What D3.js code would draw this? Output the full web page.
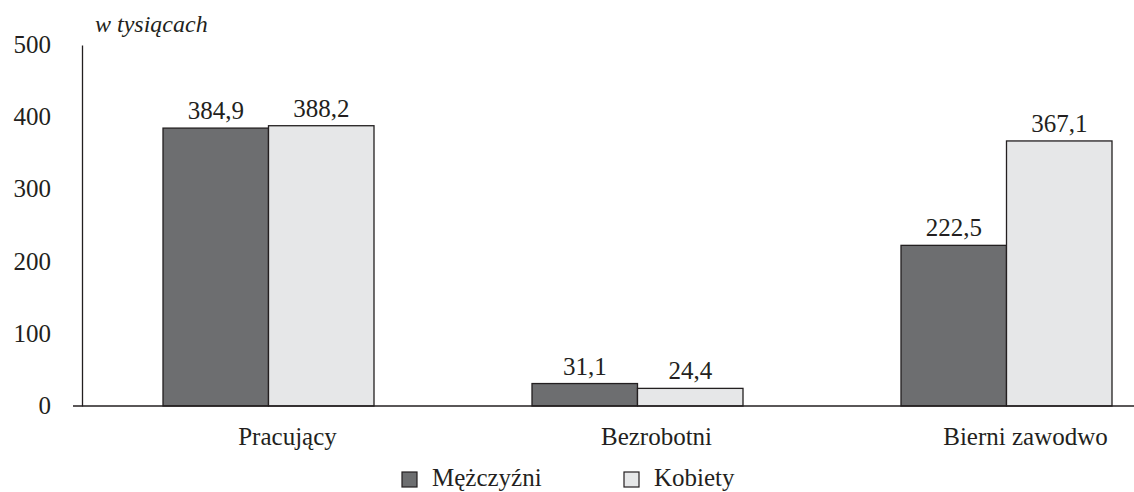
<!DOCTYPE html>
<html><head><meta charset="utf-8">
<script src="https://cdn.jsdelivr.net/npm/d3@7"></script>
</head><body style="margin:0;background:#fff"><svg id="c" width="1134" height="492" style="display:block"></svg>
<script>
const categories = ["Pracujący", "Bezrobotni", "Bierni zawodwo"];
const seriesNames = ["Mężczyźni", "Kobiety"];
const men = [384.9, 31.1, 222.5];
const women = [388.2, 24.4, 367.1];
const yTicks = [0, 100, 200, 300, 400, 500];
const unitLabel = "w tysiącach";

const colors = ["#6d6e70", "#e6e7e8"];
const stroke = "#231f20";
const FONT = "'Times New Roman'";
const FS = "25px";
const svg = d3.select("#c");
const fmt = v => d3.format(".1f")(v).replace(".", ",");

const y = d3.scaleLinear().domain([0, 500]).range([406, 45]);
const x0 = d3.scaleBand().domain(categories).range([84, 1191]).paddingInner(0).paddingOuter(0);
const x1 = d3.scaleBand().domain(seriesNames).range([0, 211]);
const groupOffset = (x0.bandwidth() - 211) / 2;

// y axis
const yAxis = d3.axisLeft(y).tickValues(yTicks).tickSize(0).tickPadding(31).tickFormat(d3.format("d"));
const ga = svg.append("g").attr("transform", "translate(82,0)").call(yAxis);
ga.attr("font-family", null).attr("font-size", null);
ga.select(".domain").attr("stroke", stroke).attr("stroke-width", 1.3);
ga.selectAll("text").style("font-family", FONT).style("font-size", FS).attr("dy", "0.3em").style("fill", stroke);

svg.append("text").attr("x", 95).attr("y", 32).style("font-family", FONT).style("font-size", "24px").style("font-style", "italic").style("fill", stroke).text(unitLabel);

// bars
const data = categories.map((c, i) => ({c, vals: [men[i], women[i]]}));
const g = svg.selectAll("g.grp").data(data).join("g").attr("class", "grp")
  .attr("transform", d => `translate(${x0(d.c) + groupOffset},0)`);
g.selectAll("rect").data(d => d.vals.map((v, j) => ({v, s: seriesNames[j], j})))
  .join("rect")
  .attr("x", d => x1(d.s)).attr("width", x1.bandwidth())
  .attr("y", d => y(d.v)).attr("height", d => y(0) - y(d.v))
  .attr("fill", d => colors[d.j]).attr("stroke", stroke).attr("stroke-width", 1.3);
g.selectAll("text.val").data(d => d.vals.map((v, j) => ({v, s: seriesNames[j], j})))
  .join("text").attr("class", "val")
  .attr("x", d => x1(d.s) + x1.bandwidth() / 2).attr("y", d => y(d.v) - 9)
  .attr("text-anchor", "middle").style("font-family", FONT).style("font-size", FS).style("fill", stroke).text(d => fmt(d.v));

// baseline
svg.append("line").attr("x1", 73).attr("x2", 1134).attr("y1", y(0)).attr("y2", y(0)).attr("stroke", stroke).attr("stroke-width", 1.3);

// category labels
svg.selectAll("text.cat").data(categories).join("text").attr("class", "cat")
  .attr("x", d => x0(d) + x0.bandwidth() / 2 + 19).attr("y", 445)
  .attr("text-anchor", "middle").style("font-family", FONT).style("font-size", FS).style("fill", stroke).text(d => d);

// legend
const legX = [402, 624];
const lg = svg.selectAll("g.leg").data(seriesNames).join("g").attr("class", "leg")
  .attr("transform", (d, i) => `translate(${legX[i]},472)`);
lg.append("rect").attr("width", 15).attr("height", 15).attr("fill", (d, i) => colors[i]).attr("stroke", stroke).attr("stroke-width", 1.2);
lg.append("text").attr("x", 30).attr("y", 14).style("font-family", FONT).style("font-size", FS).style("fill", stroke).text(d => d);
</script></body></html>
